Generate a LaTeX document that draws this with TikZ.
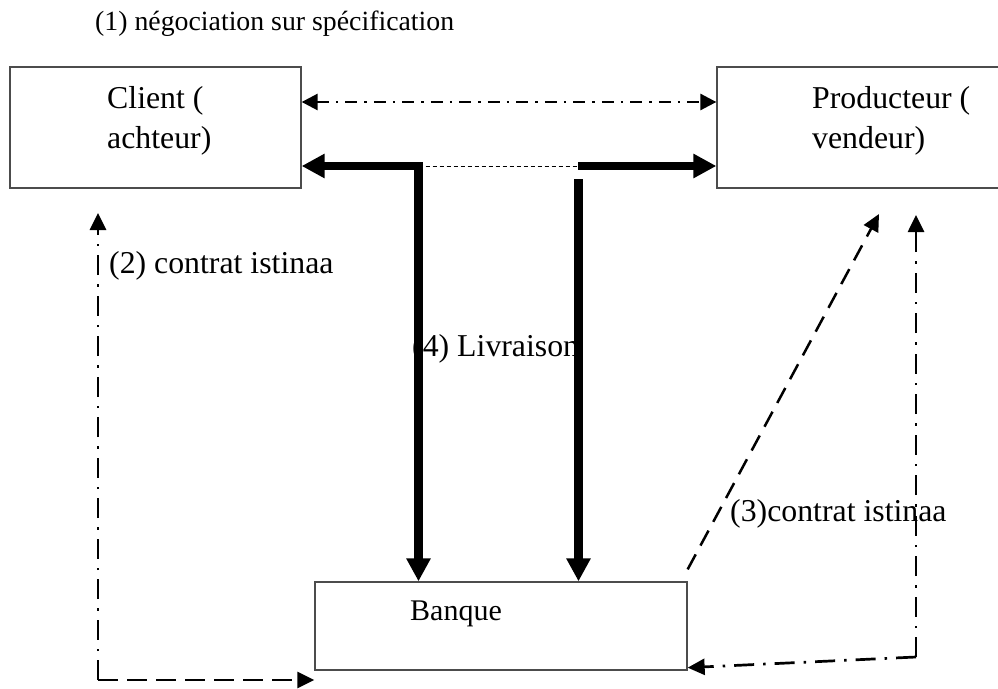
\documentclass[tikz,border=0pt]{standalone}
\usepackage{fontspec}
\setmainfont{Liberation Serif}
\usetikzlibrary{arrows.meta}

\tikzset{
  box/.style={rectangle, draw=black!70, line width=1.3pt, inner sep=0pt},
  lbl/.style={inner sep=0pt, font=\fontsize{31.8}{38}\selectfont},
  small/.style={inner sep=0pt, font=\fontsize{27.8}{33}\selectfont},
  tip/.style={-{Triangle[length=17pt,width=16pt]}},
  twotips/.style={{Triangle[length=16pt,width=16pt]}-{Triangle[length=16pt,width=16pt]}},
  heavy/.style={line width=8.5pt, line join=miter},
  heavytip/.style={-{Triangle[length=23pt,width=23pt]}},
  dashdot/.style={line width=2.7pt, dash pattern=on 20pt off 9pt on 2.5pt off 9pt},
  finedashdot/.style={line width=2.7pt, dash pattern=on 12pt off 7pt on 2.5pt off 7pt},
  longdash/.style={line width=2.7pt, dash pattern=on 20pt off 9pt},
  slantdash/.style={line width=2.5pt, dash pattern=on 17pt off 10pt},
  hairdash/.style={line width=1pt, dash pattern=on 4pt off 3pt},
}

\begin{document}
\begin{tikzpicture}[x=1pt, y=-1pt]
  \clip (0,0) rectangle (998,688);
  \fill[white] (0,0) rectangle (998,688);

  % boxes
  \node[box, minimum width=291pt, minimum height=121pt] (client) at (155.5,127.5) {};
  \node[box, minimum width=293pt, minimum height=121pt] (prod) at (863.5,127.5) {};
  \node[box, minimum width=372pt, minimum height=88pt] (bank) at (501,626) {};

  % box texts
  \node[lbl, anchor=base west] (clientA) at (107,108) {Client (};
  \node[lbl, anchor=base west] (clientB) at (107,148) {achteur)};
  \node[lbl, anchor=base west] (prodA) at (812,108) {Producteur (};
  \node[lbl, anchor=base west] (prodB) at (812,148) {vendeur)};
  \node[inner sep=0pt, font=\fontsize{30}{36}\selectfont, anchor=base west] (bankT) at (410,620) {Banque};

  % step labels
  \node[small, anchor=base west] (l1) at (95,30) {(1) négociation sur spécification};
  \node[lbl, anchor=base west] (l2) at (109,273) {(2) contrat istinaa};
  \node[lbl, anchor=base west] (l3) at (730,521) {(3)contrat istinaa};
  \node[lbl, anchor=base west] (l4) at (412,356) {(4) Livraison};

  % route points
  \coordinate (neg) at (500,102);
  \coordinate (jl) at (418.5,166);
  \coordinate (jr) at (578,166);
  \coordinate (jr2) at (578.5,179);
  \coordinate (cl) at (98,680);
  \coordinate (clTop) at (98,213);
  \coordinate (cr) at (916,657);
  \coordinate (crTop) at (916,215);
  \coordinate (diagTip) at (879,214);

  % (1) negotiation between client and producer
  \draw[finedashdot, twotips] (client.east |- neg) -- (prod.west |- neg);

  % (4) delivery, drawn over its label
  \draw[hairdash] (jl) -- (jr);
  \draw[heavy, {Triangle[length=23pt,width=23pt]}-{Triangle[length=23pt,width=23pt]}]
    (client.east |- jl) -- (jl) -- (jl |- bank.north);
  \draw[heavy, heavytip] (jr) -- (prod.west |- jr);
  \draw[heavy, heavytip] (jr2) -- (jr2 |- bank.north);

  % (2) contract between client and bank
  \draw[dashdot, tip] (cl) -- (clTop);
  \draw[longdash, tip] (cl) -- (bank.west |- cl);

  % (3) contract between bank and producer
  \draw[slantdash, tip] ([yshift=12pt]bank.north east) -- (diagTip);
  \draw[dashdot, tip] (cr) -- (crTop);
  \draw[dashdot, tip] (cr) -- ([yshift=3pt]bank.south east);
\end{tikzpicture}
\end{document}
